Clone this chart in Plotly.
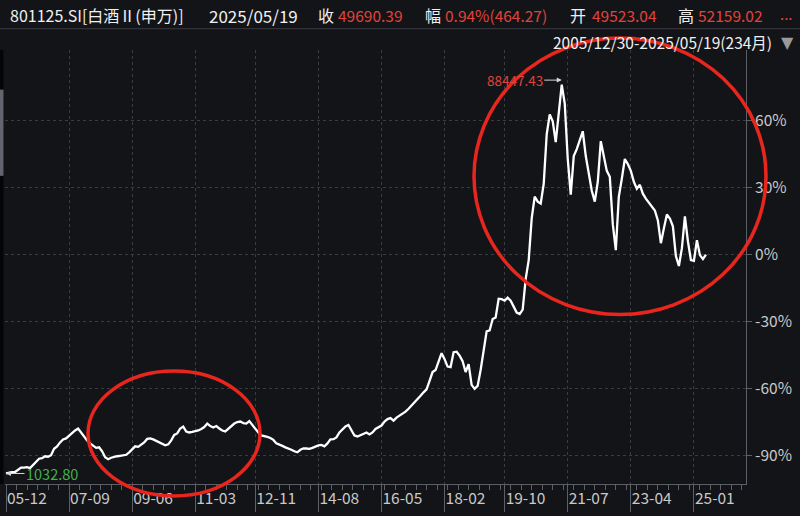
import pandas as pd
import plotly.graph_objects as go

# ---------------- data ----------------
months = pd.period_range("2005-12", periods=234, freq="M")
close = [
    1032.80, 1224, 1318, 1352, 1775, 2325, 2310, 2435, 2215, 2876, 3757, 4307, 4417, 4858, 4748, 5078,
    6509, 7060, 7940, 8601, 8821, 9482, 9922, 10583, 11023, 10142, 9041, 8381, 7720, 7170, 6729, 6839,
    5959, 4637, 4197, 4527, 4748, 4858, 4968,
    5078, 5188, 5738, 6399, 7060, 6950, 7500, 7940, 8711, 8821, 8601, 8271, 7940, 7610, 7280, 7500,
    8381, 9592, 9922, 11023, 11464, 10363, 10142, 10253, 10363, 10583, 10913, 11353, 12124, 11574, 11243,
    11574, 11023, 10583, 10363, 10913, 11574, 12124, 12455, 12565, 12234, 12124, 12675, 11794, 10803,
    10142, 9482, 9372, 9152, 8931, 8491, 7720, 7500, 7170, 6839, 6619, 6289, 5959, 5738, 6289, 6619,
    6580, 6509, 6729, 7060, 7280, 7390, 7060, 7720, 8601, 8650, 9041, 10142, 10803, 11464, 11794, 10583,
    9482, 9262, 9592, 9922, 10142, 9702, 10142, 10913, 11243, 11684, 12565, 13115, 13335, 12785, 13446, 13886,
    14326, 14767, 15427, 16088, 16748, 17409, 18290, 19061, 19721, 21593, 23575, 24015, 26107, 27758,
    26437, 24786, 24676, 27979, 28089, 27208, 25997, 23575, 25336, 20712, 19831, 20492, 24015, 28639,
    32603, 32823, 35355, 35686, 39869, 39759, 39429, 40090, 39429, 38108, 36787, 36456, 37447, 44273,
    48457, 57706, 62550, 61449, 61009, 65413, 76423, 80827, 79285, 74661, 80606, 87433, 83249, 70918,
    62990, 71578, 73120, 75101, 77083, 71578, 67615, 63871, 61449, 65853, 74881, 71358, 68275, 66954,
    56384, 50659, 62550,
    66514, 70918, 69817, 68275, 65853, 64312, 65192, 63211, 62110, 61229, 60348, 59467, 57265, 52201,
    55504, 58586, 57706, 55944, 49338, 47136, 51100, 58146, 52641, 48457, 48300, 52861, 49558, 48677,
    49690.39,
]
high_max = 88447.43
low_min = 1032.80
last_close = 49690.39

x_tick_labels = ["05-12", "07-09", "09-06", "11-03", "12-11", "14-08",
                 "16-05", "18-02", "19-10", "21-07", "23-04", "25-01"]
pct_ticks = [60, 30, 0, -30, -60, -90]

header_code = "801125.SI[白酒Ⅱ(申万)]"
header_date = "2025/05/19"
header_items = [("收", "49690.39"), ("幅", "0.94%(464.27)"), ("开", "49523.04"), ("高", "52159.02")]
range_text = "2005/12/30-2025/05/19(234月)"

# ---------------- layout geometry ----------------
W, H = 800, 516
L, R, T, B = 5, 54, 50, 28
PW, PH = W - L - R, H - T - B
FONT = "Noto Sans CJK SC"
BG = "#131418"
RED = "#e0433b"
GRID = "#3a3c42"
AXC = "#5c5f66"
TXT = "#c9c9c9"


def px(xp):
    return (xp - L) / PW


def py(yp):
    return 1 - (yp - T) / PH


xs = list(range(len(months)))
month_str = [m.strftime("%y-%m") for m in months]
tickvals = [month_str.index(t) for t in x_tick_labels]

fig = go.Figure()
fig.add_trace(go.Scatter(x=xs, y=close, mode="lines",
                         line=dict(color="#ffffff", width=2.3),
                         hoverinfo="skip", showlegend=False))

y_tickvals = [last_close * (1 + p / 100) for p in pct_ticks]
y_ticktext = [f"{p}%" for p in pct_ticks]

i_max = close.index(max(close))


def header_text(text, x, color, size, y=15):
    return dict(text=text, x=px(x), y=py(y), xref="paper", yref="paper",
                xanchor="left", yanchor="middle", showarrow=False,
                font=dict(color=color, size=size, family=FONT))


annotations = [
    header_text(header_code, 8, "#f0f0f0", 16),
    header_text(header_date, 207, "#f0f0f0", 17),
]
label_x = [316, 423, 568, 676]
value_x = [336, 443, 590, 696]
for (lab, val), lx, vx in zip(header_items, label_x, value_x):
    annotations.append(header_text(lab, lx, "#f0f0f0", 16))
    annotations.append(header_text(val, vx, RED, 15.5))
annotations.append(header_text("...", 778, RED, 15, y=13))
annotations.append(dict(text=range_text, x=px(774), y=py(42), xref="paper", yref="paper",
                        xanchor="right", yanchor="middle", showarrow=False,
                        font=dict(color="#f0f0f0", size=15.5, family=FONT)))
annotations.append(dict(text="▼", x=px(787), y=py(42), xref="paper", yref="paper",
                        xanchor="center", yanchor="middle", showarrow=False,
                        font=dict(color="#9a9a9a", size=16, family="DejaVu Sans")))
# max / min labels
annotations.append(dict(text=f"{high_max:.2f}", x=i_max, y=high_max, xref="x", yref="y",
                        showarrow=True, ax=-47, ay=0, arrowhead=2, arrowsize=1, arrowwidth=1,
                        arrowcolor="#d8d8d8", standoff=0,
                        font=dict(color=RED, size=13.5, family=FONT)))
annotations.append(dict(text=f"{low_min:.2f}", x=0, y=low_min, xref="x", yref="y",
                        showarrow=True, ax=46, ay=0, arrowhead=2, arrowsize=1, arrowwidth=1,
                        arrowcolor="#d8d8d8", standoff=0,
                        font=dict(color="#3fb24a", size=14.5, family=FONT)))

shapes = [
    # header separator
    dict(type="line", xref="paper", yref="paper", x0=px(0), x1=px(800), y0=py(28.5), y1=py(28.5),
         line=dict(color="#3a3b40", width=1)),
    # left strip and scroll bar
    dict(type="rect", xref="paper", yref="paper", x0=px(0), x1=px(3.5), y0=py(488), y1=py(50),
         fillcolor="#050507", line=dict(width=0)),
    dict(type="rect", xref="paper", yref="paper", x0=px(0), x1=px(3.5), y0=py(177), y1=py(90),
         fillcolor="#62656d", line=dict(width=0)),
    # red ellipses
    dict(type="circle", xref="paper", yref="paper", x0=px(88), x1=px(260), y0=py(500), y1=py(374),
         line=dict(color="#e8261e", width=3.5)),
    dict(type="circle", xref="paper", yref="paper", x0=px(474), x1=px(766), y0=py(317), y1=py(38),
         line=dict(color="#e8261e", width=3.5)),
]

fig.update_layout(
    width=W, height=H,
    margin=dict(l=L, r=R, t=T, b=B),
    paper_bgcolor=BG, plot_bgcolor=BG,
    showlegend=False,
    annotations=annotations,
    shapes=shapes,
    xaxis=dict(
        range=[(L - 6) / 3.004, (W - R - 6) / 3.004],
        tickmode="array", tickvals=tickvals, ticktext=x_tick_labels,
        ticklabelposition="outside right",
        ticks="outside", ticklen=27, tickcolor=AXC, tickwidth=1,
        tickfont=dict(color=TXT, size=15.5, family=FONT),
        showgrid=True, gridcolor=GRID, griddash="dot", gridwidth=1,
        showline=True, linecolor=AXC, linewidth=1,
        zeroline=False,
        minor=dict(tickmode="linear", tick0=0, dtick=3.5, ticks="outside", ticklen=5,
                   tickcolor=AXC, showgrid=False),
    ),
    yaxis=dict(
        side="right",
        range=[-1308, 95140],
        tickmode="array", tickvals=y_tickvals, ticktext=y_ticktext,
        ticks="outside", ticklen=5, tickcolor=AXC,
        tickfont=dict(color=TXT, size=15.5, family=FONT),
        showgrid=True, gridcolor=GRID, griddash="dot", gridwidth=1,
        showline=True, linecolor=AXC, linewidth=1,
        zeroline=False,
    ),
)

fig.write_html("out.html",
               config={"displayModeBar": False},
               post_script="document.body.style.margin='0';document.body.style.background='#131418';")
